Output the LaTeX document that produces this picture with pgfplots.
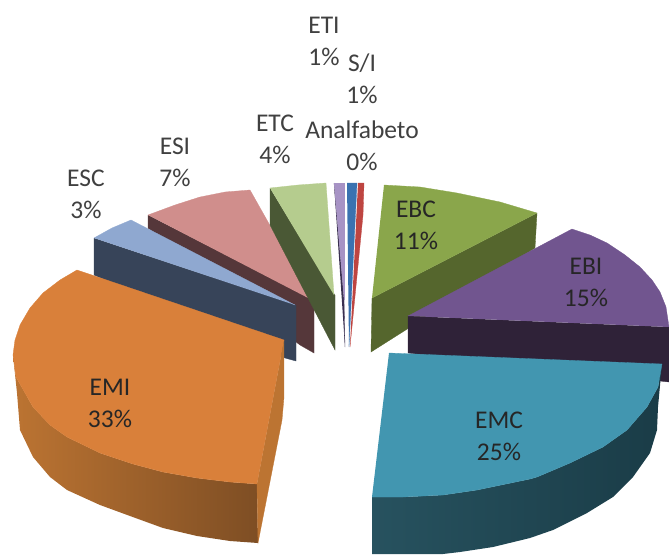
\documentclass[border=0pt]{standalone}
\usepackage{fontspec}
\setmainfont{Carlito}
\usepackage{pgfplots}
\pgfplotsset{compat=1.18}

\definecolor{emitop}{HTML}{D9803A}
\definecolor{emiside}{HTML}{BC7432}
\definecolor{emidark}{HTML}{7E4E24}
\definecolor{esctop}{HTML}{8FA8D0}
\definecolor{escside}{HTML}{374459}
\definecolor{esitop}{HTML}{D08E8C}
\definecolor{esiside}{HTML}{55373A}
\definecolor{etctop}{HTML}{B5CC8E}
\definecolor{etcside}{HTML}{4A5835}
\definecolor{etitop}{HTML}{A793C5}
\definecolor{etiside}{HTML}{3A3050}
\definecolor{sitop}{HTML}{3A72B0}
\definecolor{antop}{HTML}{BE4541}
\definecolor{ebctop}{HTML}{8AA64B}
\definecolor{ebcside}{HTML}{55662D}
\definecolor{ebitop}{HTML}{71558F}
\definecolor{ebiside}{HTML}{2F2238}
\definecolor{emctop}{HTML}{4296B0}
\definecolor{emcside}{HTML}{27525F}
\definecolor{emcdark}{HTML}{1A3C47}
\definecolor{lbl}{HTML}{404040}

\newcommand{\lab}[5][lbl]{%
  \node[anchor=base,text=#1,font=\fontsize{25.5}{30}\selectfont] at (axis cs:#2,#3) {#4};
  \node[anchor=base,text=#1,font=\fontsize{25.5}{30}\selectfont] at (axis cs:#2,#3+32) {#5};
}

\begin{document}
\begin{tikzpicture}
\begin{axis}[
    width=669pt, height=554pt, scale only axis,
    xmin=0, xmax=669, ymin=0, ymax=554,
    y dir=reverse,
    axis line style={draw=none},
    xtick=\empty, ytick=\empty,
    face/.style={draw=#1, line width=0.3pt, fill=#1},
]
% back slices first
\addplot[face=esiside] coordinates {(148,215) (148,228) (300,345) (314,353) (314,300)};
\addplot[face=esitop] coordinates {(148,215) (175,205) (200,197) (225,192) (250,190) (312,300)};
\addplot[face=etcside] coordinates {(270,188) (270,225) (335,350) (335,295)};
\addplot[face=etctop] coordinates {(270,188) (298,185) (326,183) (334,295)};
\addplot[face=etiside] coordinates {(334,183) (344,300) (345,347)};
\addplot[face=etitop] coordinates {(334,183) (344,183) (344,300)};
\addplot[face=sitop] coordinates {(347,183) (357,183) (349,347)};
\addplot[face=antop] coordinates {(358,183) (364,183) (363,215) (350,347)};

\addplot[face=ebcside] coordinates {(537,213) (535,248) (371,352) (372,298)};
\addplot[face=ebctop] coordinates {(384,185) (420,187) (457,193) (500,202) (537,213) (372,298)};
\addplot[face=ebiside] coordinates {(408,316) (408,353) (669,382) (669,327)};
\addplot[face=ebitop] coordinates {(408,316) (572,229) (590,235) (607,243) (625,255) (640,267) (652,280) (660,292) (666,307) (669,327)};

% EMC wall, then top
\addplot[left color=emcside, middle color=emcside!40!emcdark, right color=emcdark, draw=none] coordinates {(372,497) (372,554) (443,554) (460,552) (493,547) (530,538) (553,530) (587,513) (613,497) (633,477) (650,453) (657,430) (658,407) (662,364) (658,387) (647,407) (627,430) (603,447) (570,463) (537,477) (530,479) (477,490) (443,495) (403,497)};
\addplot[face=emctop] coordinates {(389,353) (662,364) (658,387) (647,407) (627,430) (603,447) (570,463) (537,477) (530,479) (477,490) (443,495) (403,497) (372,497)};

\addplot[face=escside] coordinates {(94,238) (94,275) (285,358) (296,361) (296,305)};
\addplot[face=esctop] coordinates {(94,238) (112,228) (131,220) (295,305)};

% EMI wall, inner side, then top
\addplot[left color=emiside, right color=emidark, draw=none] coordinates {(13,355) (16,377) (33,407) (50,425) (67,437) (100,453) (133,464) (163,472) (197,478) (230,482) (257,484) (258,543) (230,541) (197,536) (163,528) (130,516) (100,505) (67,490) (50,477) (33,457) (20,430) (17,393)};
\addplot[face=emiside] coordinates {(284,340) (257,484) (258,543) (282,420) (284,397)};
\addplot[face=emitop] coordinates {(284,340) (77,270) (60,280) (43,293) (30,308) (20,325) (15,340) (13,355) (16,377) (33,407) (50,425) (67,437) (100,453) (133,464) (163,472) (197,478) (230,482) (257,484)};

\lab{324}{33}{ETI}{1\%}
\lab{362}{71}{S/I}{1\%}
\lab{275}{131}{ETC}{4\%}
\lab{362}{138}{Analfabeto}{0\%}
\lab{86}{186}{ESC}{3\%}
\lab{175}{154}{ESI}{7\%}
\lab[black!85]{416}{217}{EBC}{11\%}
\lab[black!85]{586}{274}{EBI}{15\%}
\lab[black!85]{499}{428}{EMC}{25\%}
\lab[black!85]{110}{395}{EMI}{33\%}
\end{axis}
\end{tikzpicture}
\end{document}
